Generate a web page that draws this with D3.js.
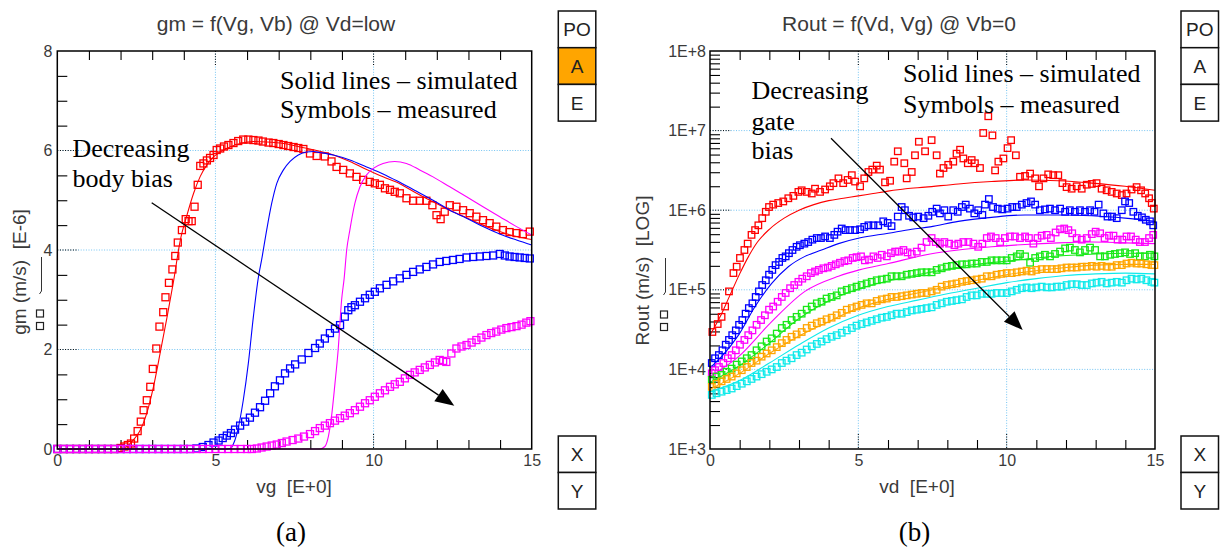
<!DOCTYPE html>
<html><head><meta charset="utf-8">
<script src="https://cdn.jsdelivr.net/npm/d3@7"></script>
<style>body{margin:0;background:#fff}svg{display:block}</style>
</head><body>
<svg id="c" width="1222" height="548"></svg>
<script>
// ---------------- Panel (a): gm vs vg ----------------
const titleA = "gm = f(Vg, Vb) @ Vd=low";
const xLabelA = "vg  [E+0]";
const yLabelA = "gm (m/s)  [E-6]";
const xTicksA = [0, 5, 10, 15];
const yTicksA = [0, 2, 4, 6, 8];
const colorsA = ["#ff0000", "#0000ff", "#ff00ff"];

const redMeasA = [[0,0],[0.2,0],[0.4,0],[0.6,0],[0.8,0],[1,0],[1.2,0],[1.4,0],[1.6,0],[1.8,0],[2,0.02],
 [2.12,0.05],[2.23,0.08],[2.33,0.11],[2.43,0.21],[2.54,0.36],[2.64,0.55],[2.73,0.78],[2.83,0.98],[2.94,1.25],[3.02,1.61],
 [3.13,2.02],[3.23,2.46],[3.35,2.75],[3.42,3.05],[3.53,3.34],[3.64,3.61],[3.73,3.88],[3.81,4.15],[3.94,4.4],[4.06,4.62],
 [4.15,4.58],[4.25,4.58],[4.34,4.87],[4.44,5.31],[4.52,5.69],[4.62,5.74],[4.73,5.8],[4.83,5.85],[4.94,5.91],[5.04,6.01],
 [5.15,6.04],[5.27,6.08],[5.41,6.11],[5.57,6.15],[5.72,6.19],[5.88,6.22],[6.04,6.22],[6.2,6.21],[6.36,6.2],[6.5,6.18],
 [6.68,6.16],[6.83,6.15],[7,6.13],[7.15,6.11],[7.3,6.09],[7.47,6.07],[7.62,6.05],[7.78,6.03],[7.99,5.94],[8.2,5.89],
 [8.46,5.88],[8.67,5.78],[8.83,5.67],[9.04,5.61],[9.25,5.54],[9.46,5.47],[9.67,5.41],[9.88,5.37],[10.04,5.34],[10.2,5.31],
 [10.36,5.24],[10.52,5.21],[10.67,5.17],[10.83,5.14],[11.04,5.04],[11.25,4.99],[11.46,4.99],[11.67,4.99],[11.86,4.9],
 [11.99,4.7],[12.12,4.62],[12.25,4.77],[12.41,4.9],[12.62,4.87],[12.83,4.8],[13.04,4.74],[13.25,4.67],[13.46,4.6],
 [13.67,4.54],[13.88,4.47],[14.09,4.4],[14.3,4.36],[14.52,4.34],[14.72,4.32],[14.94,4.37]];
const blueMeasA = [[0,0],[0.2,0],[0.4,0],[0.6,0],[0.8,0],[1,0],[1.2,0],[1.4,0],[1.6,0],[1.8,0],[2,0],[2.2,0],[2.4,0],
 [2.6,0],[2.8,0],[3,0],[3.2,0],[3.4,0],[3.6,0],[3.8,0],[4,0],[4.2,0],[4.4,0.01],[4.6,0.04],
 [4.78,0.08],[4.94,0.13],[5.1,0.17],[5.23,0.22],[5.36,0.27],[5.49,0.32],[5.62,0.39],[5.78,0.47],[5.94,0.55],[6.09,0.63],
 [6.25,0.73],[6.41,0.84],[6.57,0.97],[6.73,1.12],[6.88,1.26],[7.04,1.38],[7.2,1.52],[7.36,1.62],[7.52,1.7],[7.73,1.8],
 [7.94,1.93],[8.15,2.03],[8.3,2.12],[8.46,2.22],[8.62,2.33],[8.78,2.42],[8.94,2.49],[9.09,2.66],[9.2,2.79],[9.3,2.85],
 [9.41,2.89],[9.57,2.96],[9.73,3.03],[9.88,3.1],[10.04,3.16],[10.2,3.23],[10.41,3.3],[10.62,3.37],[10.83,3.43],[11.04,3.5],
 [11.25,3.56],[11.46,3.61],[11.67,3.66],[11.88,3.71],[12.09,3.76],[12.3,3.78],[12.51,3.8],[12.72,3.82],[12.94,3.85],
 [13.15,3.86],[13.36,3.87],[13.57,3.88],[13.78,3.89],[13.99,3.92],[14.15,3.89],[14.3,3.87],[14.46,3.86],[14.62,3.85],
 [14.78,3.84],[14.94,3.83]];
const magentaMeasA = [[0,0],[0.2,0],[0.4,0],[0.6,0],[0.8,0],[1,0],[1.2,0],[1.4,0],[1.6,0],[1.8,0],[2,0],[2.2,0],[2.4,0],
 [2.6,0],[2.8,0],[3,0],[3.2,0],[3.4,0],[3.6,0],[3.8,0],[4,0],[4.2,0],[4.4,0],[4.6,0],[4.8,0],[5,0],[5.2,0],[5.4,0],
 [5.6,0],[5.8,0],[6,0],[6.15,0],[6.31,0.01],[6.46,0.03],[6.62,0.05],[6.78,0.07],[6.94,0.09],[7.1,0.12],[7.25,0.15],
 [7.44,0.18],[7.62,0.21],[7.8,0.25],[7.99,0.3],[8.15,0.36],[8.3,0.42],[8.46,0.47],[8.62,0.52],[8.78,0.57],[8.94,0.62],
 [9.09,0.67],[9.25,0.72],[9.41,0.78],[9.57,0.85],[9.73,0.92],[9.88,0.98],[10.04,1.05],[10.2,1.12],[10.36,1.18],
 [10.52,1.25],[10.67,1.3],[10.83,1.35],[10.99,1.42],[11.15,1.49],[11.3,1.54],[11.46,1.59],[11.62,1.64],[11.78,1.69],
 [11.94,1.74],[12.09,1.79],[12.2,1.77],[12.3,1.75],[12.46,1.92],[12.62,2.02],[12.78,2.06],[12.94,2.09],[13.1,2.14],
 [13.25,2.19],[13.41,2.24],[13.57,2.29],[13.72,2.33],[13.88,2.36],[14.04,2.4],[14.2,2.43],[14.36,2.45],[14.52,2.47],
 [14.68,2.5],[14.83,2.54],[14.96,2.57]];
const redSimA = [[0,0],[1.5,0],[2,0.01],[2.2,0.05],[2.4,0.18],[2.6,0.35],[2.83,0.72],[3.04,1.25],[3.25,1.92],[3.47,2.65],
 [3.68,3.39],[3.89,4.2],[4.1,4.7],[4.31,5.14],[4.52,5.48],[4.73,5.71],[4.94,5.87],[5.36,6.04],[5.78,6.14],[6.2,6.18],
 [6.62,6.17],[7.15,6.14],[7.68,6.07],[8.2,6.0],[8.73,5.91],[9.25,5.78],[9.78,5.62],[10.3,5.47],[10.83,5.33],[11.36,5.14],
 [11.88,4.97],[12.41,4.8],[12.94,4.65],[13.46,4.5],[13.99,4.37],[14.52,4.27],[15,4.21]];
const blueSimA = [[0,0],[5.3,0],[5.46,0.01],[5.6,0.15],[5.73,0.45],[5.88,0.98],[6.04,1.72],[6.2,2.66],[6.36,3.46],
 [6.46,3.8],[6.62,4.4],[6.78,4.94],[6.94,5.34],[7.15,5.61],[7.36,5.78],[7.62,5.91],[7.88,5.97],[8.1,5.98],[8.3,5.96],
 [8.73,5.91],[9.25,5.81],[9.78,5.67],[10.3,5.53],[10.83,5.36],[11.36,5.18],[11.88,5.0],[12.41,4.8],[12.94,4.64],
 [13.46,4.47],[13.99,4.32],[14.52,4.2],[15,4.1]];
const magentaSimA = [[0,0],[8.3,0],[8.46,0.05],[8.57,0.25],[8.67,0.65],[8.78,1.32],[8.88,1.99],[8.99,3.0],[9.07,3.43],
 [9.15,4.0],[9.25,4.4],[9.41,4.94],[9.57,5.27],[9.78,5.51],[9.99,5.64],[10.3,5.74],[10.67,5.78],[11.04,5.74],[11.46,5.61],
 [11.88,5.47],[12.41,5.27],[12.94,5.07],[13.46,4.87],[13.99,4.67],[14.52,4.47],[15,4.3]];

// ---------------- Panel (b): Rout vs vd (values as log10 of Rout) ----------------
const titleB = "Rout = f(Vd, Vg) @ Vb=0";
const xLabelB = "vd  [E+0]";
const yLabelB = "Rout (m/s)  [LOG]";
const xTicksB = [0, 5, 10, 15];
const yTicksB = [1e3, 1e4, 1e5, 1e6, 1e7, 1e8];
const yTickLabelsB = ["1E+3", "1E+4", "1E+5", "1E+6", "1E+7", "1E+8"];
const colorsB = ["#ff0000", "#0000ff", "#ff00ff", "#18e818", "#ffa500", "#10eaea"];

const redMeasB = [[0.08,4.47],[0.26,4.57],[0.39,4.66],[0.51,4.79],[0.64,4.98],[0.79,5.21],[0.9,5.29],[1.01,5.4],
 [1.16,5.5],[1.27,5.58],[1.4,5.69],[1.52,5.75],[1.63,5.81],[1.76,5.9],[1.88,5.98],[1.99,6.04],[2.13,6.07],[2.3,6.09],
 [2.47,6.11],[2.64,6.15],[2.81,6.18],[2.98,6.23],[3.09,6.25],[3.26,6.23],[3.43,6.21],[3.54,6.27],[3.71,6.23],[3.88,6.26],
 [4.04,6.3],[4.16,6.34],[4.33,6.4],[4.49,6.34],[4.64,6.38],[4.78,6.44],[4.89,6.36],[5.06,6.3],[5.2,6.4],[5.34,6.48],
 [5.47,6.51],[5.62,6.56],[5.73,6.51],[5.9,6.35],[6.07,6.37],[6.21,6.61],[6.33,6.74],[6.55,6.59],[6.63,6.4],[6.8,6.48],
 [6.91,6.69],[7.04,6.86],[7.25,6.74],[7.47,6.88],[7.64,6.69],[7.75,6.46],[7.87,6.53],[8.03,6.57],[8.2,6.61],[8.31,6.71],
 [8.43,6.76],[8.54,6.65],[8.69,6.59],[8.82,6.63],[8.93,6.59],[9.1,6.53],[9.21,6.97],[9.38,7.18],[9.52,6.94],[9.61,6.5],
 [9.72,6.61],[9.89,6.65],[10.03,6.78],[10.15,6.88],[10.31,6.69],[10.45,6.42],[10.62,6.43],[10.79,6.46],[10.96,6.4],
 [11.09,6.3],[11.24,6.4],[11.4,6.45],[11.57,6.44],[11.74,6.44],[11.88,6.34],[12.02,6.29],[12.19,6.27],[12.36,6.3],
 [12.53,6.27],[12.7,6.32],[12.87,6.33],[13.03,6.34],[13.2,6.27],[13.37,6.25],[13.54,6.23],[13.71,6.21],[13.88,6.19],
 [14.04,6.21],[14.21,6.26],[14.38,6.29],[14.53,6.25],[14.67,6.21],[14.8,6.15],[14.89,6.09],[14.96,6.02]];
const blueMeasB = [[0.06,4.08],[0.17,4.14],[0.3,4.18],[0.42,4.24],[0.53,4.31],[0.64,4.37],[0.75,4.43],[0.87,4.49],
 [0.98,4.56],[1.09,4.62],[1.2,4.7],[1.31,4.77],[1.43,4.83],[1.54,4.91],[1.65,4.98],[1.76,5.06],[1.88,5.12],[1.99,5.19],
 [2.1,5.25],[2.21,5.31],[2.33,5.35],[2.44,5.4],[2.55,5.42],[2.66,5.46],[2.78,5.5],[2.92,5.54],[3.03,5.56],[3.18,5.58],
 [3.31,5.6],[3.45,5.63],[3.6,5.65],[3.74,5.65],[3.88,5.67],[4.04,5.65],[4.19,5.69],[4.3,5.73],[4.44,5.77],[4.57,5.75],
 [4.72,5.75],[4.89,5.75],[5.06,5.76],[5.2,5.79],[5.34,5.81],[5.51,5.81],[5.67,5.81],[5.84,5.86],[5.99,5.84],[6.12,5.8],
 [6.33,5.92],[6.46,6.04],[6.57,6.0],[6.71,5.93],[6.85,5.91],[7.02,5.92],[7.2,5.9],[7.36,5.93],[7.49,5.98],[7.64,6.02],
 [7.75,5.96],[7.9,6.0],[8.03,5.92],[8.2,6.0],[8.35,5.98],[8.49,6.04],[8.62,6.07],[8.76,6.02],[8.91,5.96],[9.04,6.0],
 [9.18,5.94],[9.27,6.07],[9.4,6.14],[9.54,6.04],[9.7,6.02],[9.85,6.01],[10.03,6.02],[10.19,6.04],[10.34,6.04],[10.51,6.07],
 [10.67,6.09],[10.82,6.11],[10.96,6.07],[11.12,6.0],[11.29,6.01],[11.46,6.02],[11.63,6.0],[11.8,6.02],[11.97,5.98],
 [12.13,6.0],[12.3,5.98],[12.47,6.0],[12.64,5.98],[12.81,6.0],[12.96,5.98],[13.1,6.07],[13.26,5.96],[13.4,5.92],
 [13.55,5.92],[13.71,5.9],[13.88,6.0],[13.99,6.11],[14.13,6.09],[14.27,5.98],[14.42,5.93],[14.56,5.91],[14.69,5.88],
 [14.83,5.86],[14.94,5.81]];
const magentaMeasB = [[0.06,3.95],[0.17,3.99],[0.3,4.03],[0.45,4.08],[0.6,4.14],[0.73,4.18],[0.87,4.24],[1.01,4.31],
 [1.16,4.37],[1.29,4.43],[1.43,4.49],[1.57,4.56],[1.72,4.62],[1.85,4.68],[1.99,4.75],[2.13,4.79],[2.28,4.85],[2.42,4.91],
 [2.55,4.96],[2.7,5.02],[2.84,5.06],[2.98,5.1],[3.11,5.14],[3.26,5.17],[3.4,5.21],[3.54,5.23],[3.67,5.25],[3.82,5.27],
 [3.97,5.28],[4.1,5.3],[4.24,5.32],[4.38,5.34],[4.53,5.36],[4.66,5.37],[4.81,5.4],[4.94,5.41],[5.09,5.42],[5.22,5.37],
 [5.36,5.38],[5.51,5.42],[5.65,5.4],[5.79,5.44],[5.96,5.42],[6.1,5.46],[6.24,5.48],[6.37,5.48],[6.52,5.5],[6.66,5.47],
 [6.8,5.45],[6.97,5.48],[7.13,5.53],[7.3,5.6],[7.47,5.65],[7.61,5.6],[7.75,5.58],[7.9,5.6],[8.06,5.58],[8.24,5.56],
 [8.37,5.58],[8.54,5.6],[8.71,5.6],[8.88,5.58],[9.04,5.54],[9.18,5.58],[9.33,5.65],[9.47,5.67],[9.63,5.65],[9.78,5.6],
 [9.94,5.65],[10.11,5.67],[10.28,5.67],[10.45,5.65],[10.62,5.67],[10.75,5.65],[10.9,5.58],[11.04,5.65],[11.18,5.68],
 [11.35,5.69],[11.49,5.65],[11.65,5.72],[11.8,5.76],[11.94,5.77],[12.08,5.75],[12.21,5.71],[12.36,5.65],[12.53,5.63],
 [12.7,5.65],[12.87,5.7],[13.0,5.73],[13.15,5.71],[13.3,5.65],[13.45,5.68],[13.6,5.68],[13.74,5.63],[13.9,5.63],
 [14.04,5.67],[14.19,5.67],[14.35,5.63],[14.49,5.6],[14.66,5.6],[14.8,5.65],[14.94,5.69]];
const greenMeasB = [[0.06,3.87],[0.22,3.91],[0.39,3.93],[0.56,3.97],[0.73,4.01],[0.9,4.06],[1.07,4.1],[1.24,4.14],
 [1.4,4.18],[1.57,4.24],[1.74,4.29],[1.91,4.35],[2.08,4.39],[2.25,4.45],[2.42,4.52],[2.58,4.56],[2.75,4.62],[2.92,4.66],
 [3.09,4.7],[3.26,4.75],[3.43,4.79],[3.6,4.83],[3.76,4.85],[3.93,4.89],[4.1,4.91],[4.27,4.93],[4.44,4.98],[4.61,5.0],
 [4.78,5.02],[4.94,5.04],[5.11,5.06],[5.28,5.08],[5.45,5.1],[5.62,5.12],[5.79,5.13],[5.96,5.14],[6.12,5.17],[6.29,5.17],
 [6.46,5.17],[6.63,5.19],[6.8,5.2],[6.97,5.21],[7.13,5.22],[7.3,5.22],[7.47,5.22],[7.64,5.25],[7.81,5.27],[7.98,5.29],
 [8.15,5.3],[8.31,5.31],[8.49,5.32],[8.65,5.32],[8.82,5.33],[8.99,5.33],[9.16,5.35],[9.33,5.35],[9.49,5.37],[9.66,5.37],
 [9.83,5.37],[10.0,5.37],[10.17,5.4],[10.34,5.42],[10.45,5.45],[10.62,5.42],[10.79,5.34],[10.96,5.4],[11.12,5.42],
 [11.29,5.44],[11.46,5.42],[11.63,5.45],[11.8,5.48],[11.97,5.52],[12.13,5.53],[12.3,5.5],[12.47,5.47],[12.64,5.5],
 [12.81,5.53],[12.98,5.5],[13.15,5.42],[13.31,5.42],[13.49,5.44],[13.65,5.45],[13.82,5.46],[13.99,5.47],[14.16,5.45],
 [14.33,5.46],[14.49,5.42],[14.66,5.42],[14.83,5.44],[14.98,5.42]];
const orangeMeasB = [[0.06,3.78],[0.22,3.82],[0.39,3.85],[0.56,3.88],[0.73,3.91],[0.9,3.95],[1.07,3.99],[1.24,4.03],
 [1.4,4.08],[1.57,4.11],[1.74,4.16],[1.91,4.2],[2.08,4.24],[2.25,4.28],[2.42,4.33],[2.58,4.37],[2.75,4.41],[2.92,4.44],
 [3.09,4.47],[3.26,4.52],[3.43,4.55],[3.6,4.58],[3.76,4.6],[3.93,4.63],[4.1,4.65],[4.27,4.68],[4.44,4.71],[4.61,4.75],
 [4.78,4.77],[4.94,4.79],[5.11,4.81],[5.28,4.83],[5.45,4.83],[5.62,4.86],[5.79,4.88],[5.96,4.89],[6.12,4.91],[6.29,4.91],
 [6.46,4.92],[6.63,4.93],[6.8,4.94],[6.97,4.95],[7.13,4.96],[7.3,4.96],[7.47,4.98],[7.64,5.0],[7.81,5.04],[7.98,5.06],
 [8.15,5.07],[8.31,5.08],[8.49,5.1],[8.65,5.11],[8.82,5.12],[8.99,5.13],[9.16,5.14],[9.33,5.17],[9.49,5.17],[9.66,5.19],
 [9.83,5.2],[10.0,5.21],[10.17,5.21],[10.34,5.22],[10.51,5.23],[10.67,5.24],[10.84,5.23],[11.0,5.25],[11.18,5.26],
 [11.35,5.26],[11.52,5.26],[11.69,5.26],[11.85,5.27],[12.02,5.28],[12.19,5.28],[12.36,5.28],[12.53,5.29],[12.7,5.29],
 [12.87,5.3],[13.03,5.29],[13.2,5.3],[13.37,5.29],[13.54,5.29],[13.71,5.31],[13.88,5.31],[14.04,5.33],[14.21,5.34],
 [14.38,5.33],[14.54,5.33],[14.71,5.32],[14.88,5.31],[14.98,5.31]];
const cyanMeasB = [[0.06,3.68],[0.22,3.7],[0.39,3.72],[0.56,3.74],[0.73,3.76],[0.9,3.79],[1.07,3.82],[1.24,3.85],
 [1.4,3.88],[1.57,3.91],[1.74,3.94],[1.91,3.97],[2.08,4.0],[2.25,4.03],[2.42,4.08],[2.58,4.11],[2.75,4.14],[2.92,4.18],
 [3.09,4.21],[3.26,4.25],[3.43,4.29],[3.6,4.32],[3.76,4.35],[3.93,4.38],[4.1,4.41],[4.27,4.43],[4.44,4.46],[4.61,4.49],
 [4.78,4.52],[4.94,4.55],[5.11,4.57],[5.28,4.59],[5.45,4.61],[5.62,4.63],[5.79,4.65],[5.96,4.66],[6.12,4.68],[6.29,4.7],
 [6.46,4.7],[6.63,4.72],[6.8,4.74],[6.97,4.75],[7.13,4.76],[7.3,4.77],[7.47,4.78],[7.64,4.81],[7.81,4.83],[7.98,4.85],
 [8.15,4.86],[8.31,4.87],[8.49,4.88],[8.65,4.91],[8.82,4.93],[8.99,4.93],[9.16,4.95],[9.33,4.95],[9.49,4.95],[9.66,4.96],
 [9.83,4.96],[10.0,4.96],[10.17,4.98],[10.34,5.0],[10.51,5.02],[10.67,5.03],[10.84,5.02],[11.0,5.03],[11.18,5.04],
 [11.35,5.03],[11.52,5.03],[11.69,5.04],[11.85,5.04],[12.02,5.06],[12.19,5.07],[12.36,5.07],[12.53,5.06],[12.7,5.06],
 [12.87,5.08],[13.03,5.09],[13.2,5.1],[13.37,5.08],[13.54,5.09],[13.71,5.1],[13.88,5.09],[14.04,5.12],[14.21,5.14],
 [14.38,5.13],[14.54,5.14],[14.71,5.12],[14.88,5.1],[14.98,5.09]];
const redSimB = [[0,4.43],[0.34,4.66],[0.67,4.93],[1.0,5.2],[1.3,5.42],[1.6,5.6],[2.0,5.76],[2.5,5.9],[3.0,6.0],
 [3.5,6.07],[4.0,6.12],[4.5,6.15],[5.0,6.18],[5.5,6.21],[6.0,6.24],[6.6,6.27],[7.25,6.29],[8.37,6.33],[9.49,6.36],
 [10.62,6.38],[11.74,6.37],[12.87,6.34],[13.99,6.3],[15,6.25]];
const blueSimB = [[0,4.02],[0.39,4.16],[0.96,4.43],[1.52,4.79],[2.08,5.08],[2.64,5.29],[3.2,5.42],[3.76,5.5],[4.33,5.58],
 [5.03,5.65],[6.01,5.71],[6.8,5.76],[7.42,5.79],[8.37,5.86],[9.49,5.91],[10.62,5.94],[11.74,5.94],[12.87,5.93],
 [13.99,5.9],[15,5.86]];
const magentaSimB = [[0,3.91],[0.96,4.16],[2.08,4.6],[3.2,4.98],[4.33,5.17],[5.03,5.25],[6.01,5.33],[7.42,5.45],
 [8.37,5.5],[9.49,5.54],[10.62,5.57],[11.74,5.59],[12.87,5.6],[13.99,5.59],[15,5.58]];
const greenSimB = [[0,3.84],[1,4.05],[2,4.33],[3,4.64],[4,4.86],[5,5.01],[6,5.11],[7,5.19],[8,5.26],[9,5.32],[10,5.36],
 [11,5.4],[12,5.43],[13,5.45],[14,5.46],[15,5.46]];
const orangeSimB = [[0,3.75],[1,3.95],[2,4.2],[3,4.42],[4,4.6],[5,4.77],[6,4.88],[7,4.96],[8,5.04],[9,5.12],[10,5.19],
 [11,5.24],[12,5.28],[13,5.31],[14,5.32],[15,5.32]];
const cyanSimB = [[0,3.72],[1,3.86],[2,4.08],[3,4.31],[4,4.52],[5,4.68],[6,4.79],[7,4.87],[8,4.95],[9,5.02],[10,5.09],
 [11,5.14],[12,5.18],[13,5.2],[14,5.21],[15,5.2]];

// ---------------- drawing ----------------
const SANS = "'Liberation Sans', Arial, sans-serif";
const SERIF = "'Liberation Serif', 'Times New Roman', serif";
const GRID = "#74c4f2";
const svg = d3.select("#c");

function panel(o) {
  const g = svg.append("g");
  const [x0, x1] = o.x.range(), [y0, y1] = o.y.range(); // y0 bottom, y1 top
  // grid
  o.gridX.forEach(v => {
    g.append("line").attr("x1", o.x(v)).attr("x2", o.x(v)).attr("y1", y1).attr("y2", y0)
      .attr("stroke", GRID).attr("stroke-width", 1).attr("stroke-dasharray", "1,1.6");
    [[y0 - 15, y0], [y1, y1 + 15]].forEach(([a, b]) =>
      g.append("line").attr("x1", o.x(v)).attr("x2", o.x(v)).attr("y1", a).attr("y2", b)
        .attr("stroke", "#000").attr("stroke-width", 1).attr("stroke-dasharray", "1,1.6"));
  });
  o.gridY.forEach(v => {
    g.append("line").attr("x1", x0).attr("x2", x1).attr("y1", o.y(v)).attr("y2", o.y(v))
      .attr("stroke", GRID).attr("stroke-width", 1).attr("stroke-dasharray", "1,1.6");
    g.append("line").attr("x1", x0).attr("x2", x0 + 21).attr("y1", o.y(v)).attr("y2", o.y(v))
      .attr("stroke", "#000").attr("stroke-width", 1).attr("stroke-dasharray", "1,1.6");
  });
  // minor ticks through d3 axes (inward)
  const tk = (axis, tr) => {
    const a = g.append("g").attr("transform", tr).call(axis);
    a.select(".domain").remove();
    a.selectAll(".tick line").attr("stroke", "#000").attr("stroke-width", 1.1);
  };
  tk(d3.axisBottom(o.x).tickValues(o.minorX).tickSize(-9).tickFormat(""), `translate(0,${y0})`);
  tk(d3.axisTop(o.x).tickValues(o.minorX).tickSize(-9).tickFormat(""), `translate(0,${y1})`);
  tk(d3.axisLeft(o.y).tickValues(o.minorY).tickSize(-10).tickFormat(""), `translate(${x0},0)`);
  // tick labels
  const lab = (axis, tr) => {
    const a = g.append("g").attr("transform", tr).call(axis);
    a.select(".domain").remove();
    a.selectAll(".tick line").remove();
    a.attr("font-family", SANS).attr("font-size", 16).style("color", "#3a3a3a");
  };
  lab(d3.axisBottom(o.x).tickValues(o.xTicks).tickSize(0).tickPadding(5.5).tickFormat(d3.format("d")), `translate(0,${y0})`);
  lab(d3.axisLeft(o.y).tickValues(o.yTicks).tickSize(0).tickPadding(o.yPad).tickFormat((d, i) => o.yFmt[i]), `translate(${x0},0)`);
  // series
  o.series.forEach(s => {
    const sg = g.append("g");
    sg.selectAll("rect").data(s.meas).join("rect")
      .attr("x", d => o.x(d[0]) - o.sq / 2).attr("y", d => o.y(o.val(d[1])) - o.sq / 2)
      .attr("width", o.sq).attr("height", o.sq)
      .attr("fill", "none").attr("stroke", s.color).attr("stroke-width", 1.3);
    sg.append("path").datum(s.sim)
      .attr("d", d3.line().x(d => o.x(d[0])).y(d => o.y(o.val(d[1]))).curve(d3.curveMonotoneX))
      .attr("fill", "none").attr("stroke", s.color).attr("stroke-width", 1.1);
  });
  // frame
  g.append("rect").attr("x", x0).attr("y", y1).attr("width", x1 - x0).attr("height", y0 - y1)
    .attr("fill", "none").attr("stroke", "#000").attr("stroke-width", 1.5);
  // titles
  g.append("text").attr("x", o.titleX).attr("y", 31).attr("text-anchor", "middle")
    .attr("font-family", SANS).attr("font-size", 21).attr("fill", "#3a3a3a").text(o.title);
  g.append("text").attr("x", o.xLabX).attr("y", 493).attr("text-anchor", "middle").attr("xml:space", "preserve")
    .style("white-space", "pre").attr("font-family", SANS).attr("font-size", 19).attr("fill", "#3a3a3a").text(o.xLabel);
  g.append("text").attr("transform", `translate(${o.yLabX},${o.yLabY}) rotate(-90)`).attr("text-anchor", "middle")
    .style("white-space", "pre").attr("font-family", SANS).attr("font-size", 19).attr("fill", "#3a3a3a").text(o.yLabel);
  // rotated legend marks next to y label
  g.append("path").attr("d", `M${o.legX + 1.5},${o.legY} V${o.legY + 34} L${o.legX - 0.5},${o.legY + 37}`)
    .attr("fill", "none").attr("stroke", "#333").attr("stroke-width", 1);
  [0, 1].forEach(i => g.append("rect").attr("x", o.legX - 3.5).attr("y", o.legY + 53 + i * 12.5)
    .attr("width", 7).attr("height", 7).attr("fill", "none").attr("stroke", "#222").attr("stroke-width", 1.2));
  // annotations
  const ann = (lines, x, ys) => lines.forEach((t, i) => g.append("text").attr("x", x).attr("y", ys[i])
    .attr("font-family", SERIF).attr("font-size", 26).attr("fill", "#000").text(t));
  ann(["Solid lines \u2013 simulated", "Symbols \u2013 measured"], o.noteX, o.noteY);
  ann(o.decLines, o.decX, o.decY);
  // arrow
  const [ax, ay, bx, by] = o.arrow;
  const L = Math.hypot(bx - ax, by - ay), ux = (bx - ax) / L, uy = (by - ay) / L;
  const hl = 19, hw = 7.5, cx = bx - ux * hl, cy = by - uy * hl;
  g.append("line").attr("x1", ax).attr("y1", ay).attr("x2", cx).attr("y2", cy).attr("stroke", "#000").attr("stroke-width", 1.3);
  g.append("path").attr("d", `M${bx},${by} L${cx - uy * hw},${cy + ux * hw} L${cx + uy * hw},${cy - ux * hw} Z`).attr("fill", "#000");
  // side boxes
  const box = (labels, x, y, hs, fills) => labels.forEach((t, i) => {
    g.append("rect").attr("x", x).attr("y", y + i * hs).attr("width", 37.5).attr("height", hs)
      .attr("fill", fills[i]).attr("stroke", "#111").attr("stroke-width", 1.5);
    g.append("text").attr("x", x + 18.75).attr("y", y + i * hs + hs / 2 + 7).attr("text-anchor", "middle")
      .attr("font-family", SANS).attr("font-size", 19).attr("fill", "#222").text(t);
  });
  box(["PO", "A", "E"], o.boxX, 11, 36.7, ["#fff", o.aFill, "#fff"]);
  box(["X", "Y"], o.boxX, 436, 36.5, ["#fff", "#fff"]);
  // caption
  g.append("text").attr("x", o.capX).attr("y", 541).attr("text-anchor", "middle")
    .attr("font-family", SERIF).attr("font-size", 27).attr("fill", "#000").text(o.cap);
}

const xA = d3.scaleLinear().domain([0, 15]).range([57.3, 531.7]);
const yA = d3.scaleLinear().domain([0, 8]).range([449, 51]);
panel({
  x: xA, y: yA, val: v => v, sq: 7,
  gridX: [5, 10], gridY: [2, 4, 6],
  minorX: [1,2,3,4,6,7,8,9,11,12,13,14],
  minorY: [0.5,1,1.5,2.5,3,3.5,4.5,5,5.5,6.5,7,7.5],
  xTicks: xTicksA, yTicks: yTicksA, yFmt: yTicksA.map(String), yPad: 5,
  series: [
    {color: colorsA[0], meas: redMeasA, sim: redSimA},
    {color: colorsA[1], meas: blueMeasA, sim: blueSimA},
    {color: colorsA[2], meas: magentaMeasA, sim: magentaSimA}],
  title: titleA, titleX: 276, xLabel: xLabelA, xLabX: 294, yLabel: yLabelA, yLabX: 26, yLabY: 272,
  legX: 40, legY: 257,
  noteX: 280, noteY: [89, 118], decLines: ["Decreasing", "body bias"], decX: 72.5, decY: [157, 187],
  arrow: [151.7, 202.7, 454.3, 405.7],
  boxX: 558.3, aFill: "#ffa500", capX: 291, cap: "(a)"
});

const xB = d3.scaleLinear().domain([0, 15]).range([710, 1155]);
const yB = d3.scaleLog().domain([1e3, 1e8]).range([449, 51]);
const minorYB = [];
[1e3, 1e4, 1e5, 1e6, 1e7].forEach(dec => [2,3,4,5,6,7,8,9].forEach(k => minorYB.push(k * dec)));
panel({
  x: xB, y: yB, val: v => Math.pow(10, v), sq: 6.5,
  gridX: [5, 10], gridY: [1e4, 1e5, 1e6, 1e7],
  minorX: [1,2,3,4,6,7,8,9,11,12,13,14],
  minorY: minorYB,
  xTicks: xTicksB, yTicks: yTicksB, yFmt: yTickLabelsB, yPad: 4,
  series: [
    {color: colorsB[0], meas: redMeasB, sim: redSimB},
    {color: colorsB[1], meas: blueMeasB, sim: blueSimB},
    {color: colorsB[2], meas: magentaMeasB, sim: magentaSimB},
    {color: colorsB[3], meas: greenMeasB, sim: greenSimB},
    {color: colorsB[4], meas: orangeMeasB, sim: orangeSimB},
    {color: colorsB[5], meas: cyanMeasB, sim: cyanSimB}],
  title: titleB, titleX: 899, xLabel: xLabelB, xLabX: 917, yLabel: yLabelB, yLabX: 649, yLabY: 270.5,
  legX: 664, legY: 258,
  noteX: 903, noteY: [82, 113], decLines: ["Decreasing", "gate", "bias"], decX: 751.5, decY: [99, 130, 159],
  arrow: [831, 138.3, 1022.7, 330],
  boxX: 1181, aFill: "#fff", capX: 914.5, cap: "(b)"
});
</script>
</body></html>
